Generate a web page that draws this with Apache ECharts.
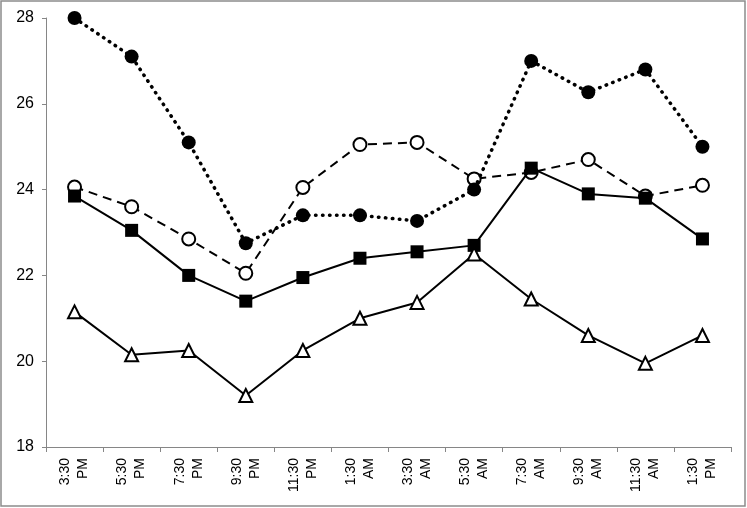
<!DOCTYPE html>
<html>
<head>
<meta charset="utf-8">
<script src="https://cdn.jsdelivr.net/npm/echarts@6/dist/echarts.min.js"></script>
<style>
  html, body { margin: 0; padding: 0; background: #fff; }
  #chart { width: 747px; height: 508px; }
</style>
</head>
<body>
<div id="chart"></div>
<script>
// time labels (two lines each)
const times = ['3:30\nPM', '5:30\nPM', '7:30\nPM', '9:30\nPM', '11:30\nPM', '1:30\nAM',
  '3:30\nAM', '5:30\nAM', '7:30\nAM', '9:30\nAM', '11:30\nAM', '1:30\nPM']

// series values
const filledCircles = [28.0, 27.1, 25.1, 22.75, 23.4, 23.4, 23.27, 24.0, 27.0, 26.27, 26.8, 25.0]
const openCircles = [24.06, 23.6, 22.85, 22.05, 24.05, 25.05, 25.1, 24.25, 24.4, 24.7, 23.85, 24.1]
const squares = [23.85, 23.05, 22.0, 21.4, 21.95, 22.4, 22.55, 22.7, 24.5, 23.9, 23.8, 22.85]
const triangles = [21.15, 20.15, 20.25, 19.2, 20.25, 21.0, 21.37, 22.5, 21.45, 20.6, 19.95, 20.6]

const axisGray = '#868686'
const font = 'Liberation Sans'

const chart = echarts.init(document.getElementById('chart'))

const option = {
  animation: false,
  backgroundColor: '#fff',
  graphic: [{
    type: 'rect',
    shape: { x: 1, y: 1, width: 744, height: 505 },
    style: { fill: 'none', stroke: '#8c8c8c', lineWidth: 1.5 }
  }],
  grid: { left: 46, top: 18, right: 16, bottom: 61 },
  xAxis: {
    type: 'category',
    data: times,
    boundaryGap: true,
    axisLine: { lineStyle: { color: axisGray, width: 1 } },
    axisTick: { show: true, length: 5, alignWithLabel: false, lineStyle: { color: axisGray } },
    axisLabel: {
      rotate: 90,
      interval: 0,
      margin: 11,
      color: '#000',
      fontSize: 14,
      fontFamily: font,
      lineHeight: 18
    },
    splitLine: { show: false }
  },
  yAxis: {
    type: 'value',
    min: 18,
    max: 28,
    interval: 2,
    axisLine: { show: true, lineStyle: { color: axisGray, width: 1 } },
    axisTick: { show: true, length: 4, lineStyle: { color: axisGray } },
    axisLabel: { color: '#000', fontSize: 16, fontFamily: font, margin: 12 },
    splitLine: { show: false }
  },
  series: [
    {
      name: 'open circles',
      type: 'line',
      data: openCircles,
      symbol: 'circle',
      symbolSize: 13,
      itemStyle: { color: '#fff', borderColor: '#000', borderWidth: 2 },
      lineStyle: { color: '#000', width: 2, type: [9, 6] },
      z: 2
    },
    {
      name: 'filled circles',
      type: 'line',
      data: filledCircles,
      symbol: 'circle',
      symbolSize: 14,
      itemStyle: { color: '#000', borderColor: '#000', borderWidth: 0 },
      lineStyle: { color: '#000', width: 3.5, type: [0.5, 6.5], cap: 'round' },
      z: 3
    },
    {
      name: 'squares',
      type: 'line',
      data: squares,
      symbol: 'rect',
      symbolSize: 13,
      itemStyle: { color: '#000', borderColor: '#000', borderWidth: 0 },
      lineStyle: { color: '#000', width: 2, type: 'solid' },
      z: 4
    },
    {
      name: 'triangles',
      type: 'line',
      data: triangles,
      symbol: 'triangle',
      symbolSize: 13,
      itemStyle: { color: '#fff', borderColor: '#000', borderWidth: 2 },
      lineStyle: { color: '#000', width: 2, type: 'solid' },
      z: 5
    }
  ]
}

chart.setOption(option)
</script>
</body>
</html>
